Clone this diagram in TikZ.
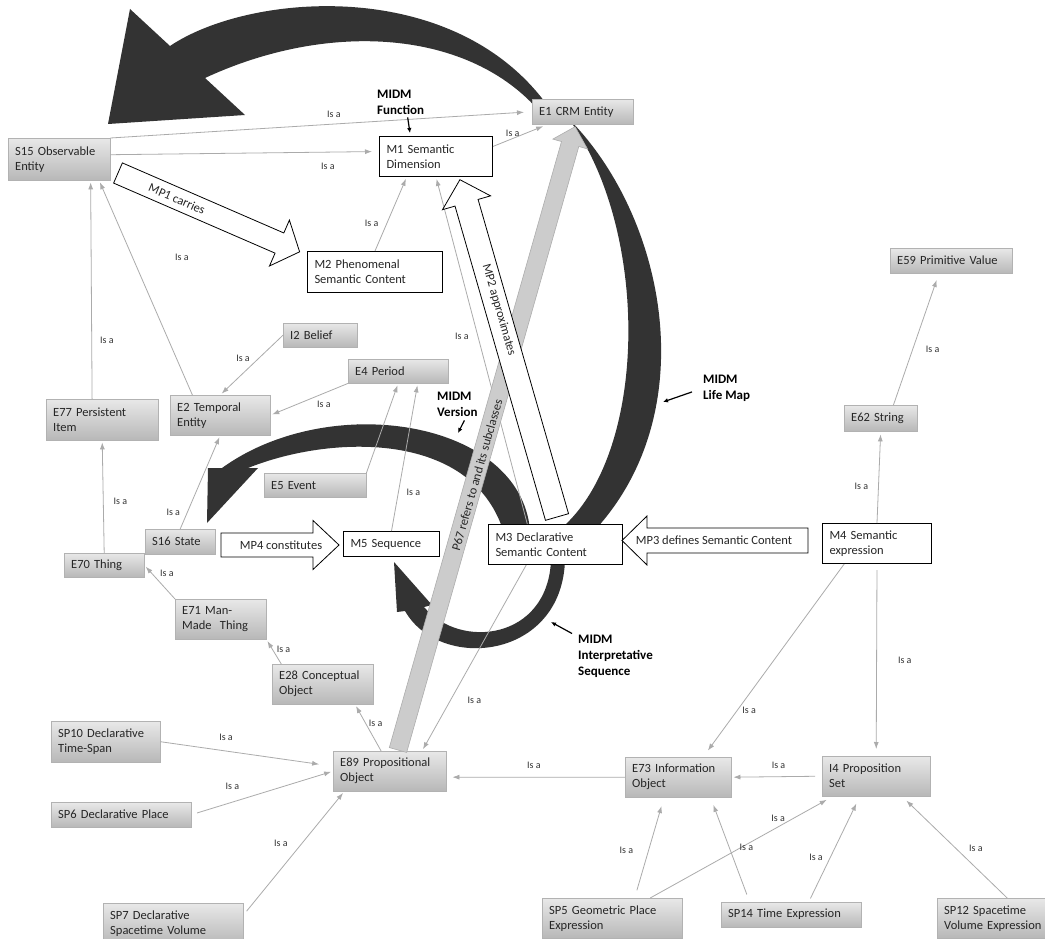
\documentclass[tikz,border=0pt]{standalone}
\usepackage{fontspec}
\setmainfont{Carlito}
\usepackage{tikz}
\usetikzlibrary{arrows.meta}
\pgfdeclarelayer{back}
\pgfsetlayers{back,main}
\newcommand{\boxfont}{\fontsize{12.5}{15}\selectfont}
\newcommand{\isafont}{\fontsize{10}{11}\selectfont}
\newcommand{\midmfont}{\fontsize{13}{16}\selectfont\bfseries}
% block arrow: style, tail, angle, length, shaft half width, head length, head half width
\newcommand{\blockarrow}[7]{%
  \path[#1, shift={#2}, rotate=#3] (0,-#5) -- (#4-#6,-#5) -- (#4-#6,-#7) -- (#4,0)
    -- (#4-#6,#7) -- (#4-#6,#5) -- (0,#5) -- cycle;}
\tikzset{
  classbox/.style={draw=black!30, top color=black!9, bottom color=black!28,
    anchor=north west, align=left, inner xsep=7pt, inner ysep=0pt,
    font=\boxfont, text=black!85},
  modelbox/.style={draw=black, line width=1pt, fill=white,
    anchor=north west, align=left, inner xsep=7pt, inner ysep=0pt,
    font=\boxfont, text=black!85},
  isa/.style={draw=black!33, line width=0.8pt, -{Latex[length=7pt,width=5pt]}, shorten >=2pt},
  isalbl/.style={font=\isafont, text=black!80, inner sep=1pt},
  band/.style={fill=black!80},
  refband/.style={fill=black!20, draw=black!32, line width=0.6pt},
  hollow/.style={fill=white, draw=black, line width=0.8pt},
  arrowtxt/.style={font=\boxfont, text=black!85, inner sep=0pt},
  midm/.style={font=\midmfont, align=left, anchor=north west, inner sep=0pt},
  pointer/.style={-{Latex[length=5pt,width=4.5pt]}, line width=1.2pt},
}

\begin{document}
\begin{tikzpicture}[x=1pt, y=-1pt]
    \useasboundingbox (0,0) rectangle (1045,939);

    % classes
    \node[classbox, text width=88pt, minimum height=42pt] (s15) at (8,138) {S15 Observable\\Entity};
    \node[classbox, text width=87pt, minimum height=25pt] (e1) at (532,99) {E1 CRM Entity};
    \node[modelbox, text width=99pt, minimum height=40pt] (m1) at (379,136) {M1 Semantic\\Dimension};
    \node[modelbox, text width=121pt, minimum height=41pt] (m2) at (307,251) {M2 Phenomenal\\Semantic Content};
    \node[classbox, text width=60pt, minimum height=24pt] (i2) at (283,323) {I2 Belief};
    \node[classbox, text width=86pt, minimum height=24pt] (e4) at (348,359) {E4 Period};
    \node[classbox, text width=86pt, minimum height=40pt] (e2) at (170,395) {E2 Temporal\\Entity};
    \node[classbox, text width=98pt, minimum height=41pt] (e77) at (46,399) {E77 Persistent\\Item};
    \node[classbox, text width=88pt, minimum height=24pt] (e5) at (264,473) {E5 Event};
    \node[classbox, text width=56pt, minimum height=25pt] (s16) at (145,529) {S16 State};
    \node[classbox, text width=66pt, minimum height=24pt] (e70) at (64,553) {E70 Thing};
    \node[modelbox, text width=82pt, minimum height=25pt] (m5) at (343,531) {M5 Sequence};
    \node[modelbox, text width=120pt, minimum height=40pt] (m3) at (488,524) {M3 Declarative\\Semantic Content};
    \node[modelbox, text width=95pt, minimum height=40pt] (m4) at (822,523) {M4 Semantic\\expression};
    \node[classbox, text width=59pt, minimum height=26pt] (e62) at (844,405) {E62 String};
    \node[classbox, text width=108pt, minimum height=25pt] (e59) at (890,248) {E59 Primitive Value};
    \node[classbox, text width=77pt, minimum height=40pt] (e71) at (175,599) {E71 Man-\\Made\ \ Thing};
    \node[classbox, text width=87pt, minimum height=40pt] (e28) at (272,664) {E28 Conceptual\\Object};
    \node[classbox, text width=95pt, minimum height=41pt] (sp10) at (51,721) {SP10 Declarative\\Time-Span};
    \node[classbox, text width=99pt, minimum height=40pt] (e89) at (333,751) {E89 Propositional\\Object};
    \node[classbox, text width=126pt, minimum height=25pt] (sp6) at (51,802) {SP6 Declarative Place};
    \node[classbox, text width=126pt, minimum height=41pt] (sp7) at (103,903) {SP7 Declarative\\Spacetime Volume};
    \node[classbox, text width=92pt, minimum height=40pt] (e73) at (625,757) {E73 Information\\Object};
    \node[classbox, text width=94pt, minimum height=40pt] (i4) at (822,756) {I4 Proposition\\Set};
    \node[classbox, text width=126pt, minimum height=40pt] (sp5) at (542,898) {SP5 Geometric Place\\Expression};
    \node[classbox, text width=126pt, minimum height=25pt] (sp14) at (721,902) {SP14 Time Expression};
    \node[classbox, text width=126pt, minimum height=40pt] (sp12) at (937,898) {SP12 Spacetime\\Volume Expression};

    % is-a links
    \draw[isa, shorten >=8pt] (s15.north east) -- node[isalbl, pos=.53, above=5pt] {Is a} (e1.west);
    \draw[isa, shorten >=7pt] (s15.5) -- node[isalbl, pos=.81, below=10pt] {Is a} (m1.175);
    \draw[isa, shorten >=5pt] (m1.10) -- node[isalbl, pos=.36, above=1pt] {Is a} (e1.200);
    \draw[isa] (m2.north) -- node[isalbl, pos=.37, left=7pt] {Is a} (m1.215);
    \draw[isa] (e77.116) -- node[isalbl, pos=.27, right=7pt] {Is a} (s15.326);
    \draw[isa] (e2.144) -- node[isalbl, pos=.64, right=41pt] {Is a} (s15.332);
    \draw[isa] (i2.west) -- node[isalbl, pos=.38, left=8pt] {Is a} (e2.north);
    \draw[isa] (e4.south west) -- node[isalbl, pos=.31, below=6pt] {Is a} (e2.east);
    \draw[isa] (s16.north) -- node[isalbl, pos=.18, left=6pt] {Is a} (e2.south);
    \draw[isa] (e70.north) -- node[isalbl, pos=.46, right=9pt] {Is a} (e77.south);
    \draw[isa] (e71.north west) -- node[isalbl, pos=.76, right=7pt] {Is a} (e70.east);
    \draw[isa] (e28.154) -- node[isalbl, pos=.6, right=3pt] {Is a} (e71.south east);
    \draw[isa] (e89.113) -- node[isalbl, pos=.6, right=2pt] {Is a} (e28.328);
    \draw[isa, shorten >=14pt] (sp10.east) -- node[isalbl, pos=.38, above=9pt] {Is a} (e89.175);
    \draw[isa, shorten <=6pt] (sp6.east) -- node[isalbl, pos=.29, above=11pt] {Is a} (e89.west);
    \draw[isa, shorten <=5pt] (sp7.7) -- node[isalbl, pos=.58, left=13pt] {Is a} (e89.204);
    \draw[isa] (e5.north east) -- node[isalbl, pos=.5, left=11pt] {Is a} (e4.south);
    \draw[isa] (m5.north) -- node[isalbl, pos=.26, right=7pt] {Is a} (e4.328);
    \draw[isa] (m3.144) -- node[isalbl, pos=.54, left=8pt] {Is a} (m1.south);
    \draw[isa] (m3.215) -- node[isalbl, pos=.73, right=16pt] {Is a} (e89.32);
    \draw[isa, shorten >=6pt] (e73.west) -- node[isalbl, pos=.51, above=7pt] {Is a} (e89.354);
    \draw[isa, shorten <=7pt] (i4.west) -- node[isalbl, pos=.48, above=7pt] {Is a} (e73.east);
    \draw[isa, shorten >=8pt] (m4.212) -- node[isalbl, pos=.76, right=4pt] {Is a} (e73.39);
    \draw[isa, shorten <=6pt, shorten >=7pt] (m4.south) -- node[isalbl, pos=.5, right=20pt] {Is a} (i4.north);
    \draw[isa, shorten >=3pt] (m4.north) -- node[isalbl, pos=.4, left=9pt] {Is a} (e62.south);
    \draw[isa, shorten >=7pt] (e62.46) -- node[isalbl, pos=.42, right=12pt] {Is a} (e59.226);
    \draw[isa, shorten <=8pt, shorten >=9pt] (sp5.42) -- node[isalbl, pos=.47, left=14pt] {Is a} (e73.235);
    \draw[isa, shorten >=7pt] (sp5.28) -- node[isalbl, pos=.7, above=4pt] {Is a} (i4.205);
    \draw[isa, shorten <=8pt, shorten >=8pt] (sp14.163) -- node[isalbl, pos=.52, right=9pt] {Is a} (e73.328);
    \draw[isa, shorten <=4pt, shorten >=8pt] (sp14.36) -- node[isalbl, pos=.42, left=6pt] {Is a} (i4.231);
    \draw[isa, shorten >=6pt] (sp12.north) -- node[isalbl, pos=.49, right=12pt] {Is a} (i4.322);

    % block arrows
    \blockarrow{refband}{(398,750)}{74.14}{648}{9}{18}{18}
    \node[arrowtxt, rotate=74.14] (p67) at (477,475) {P67 refers to and its subclasses};
    \blockarrow{hollow}{(557,517)}{106.06}{351}{12}{24}{25}
    \node[arrowtxt, rotate=-73.94] (mp2) at (499,310) {MP2 approximates};
    \blockarrow{hollow}{(118,173)}{-23.46}{198}{11}{22}{25}
    \node[arrowtxt, rotate=-23.46] (mp1) at (177,199) {MP1 carries};
    \blockarrow{hollow}{(221,545)}{0}{118}{12}{26}{24.5}
    \node[arrowtxt] (mp4) at (281,545) {MP4 constitutes};
    \blockarrow{hollow}{(808,540.5)}{180}{186}{12.5}{25}{24.5}
    \node[arrowtxt] (mp3) at (714,540) {MP3 defines Semantic Content};

    % MIDM labels
    \node[midm] (fnlbl) at (377,89.5) {MIDM\\Function};
    \node[midm] (verlbl) at (437,391.5) {MIDM\\Version};
    \node[midm] (lmlbl) at (703,374.5) {MIDM\\Life Map};
    \node[midm] (islbl) at (578,634.5) {MIDM\\Interpretative\\Sequence};
    \coordinate (fntip) at (410,133);
    \coordinate (vertip) at (458,433);
    \coordinate (lmtip) at (663,402);
    \coordinate (istip) at (551,622);
    \draw[pointer] ([xshift=7pt,yshift=-3pt]fnlbl.south) -- (fntip);
    \draw[pointer] ([xshift=7pt,yshift=-4pt]verlbl.south) -- (vertip);
    \draw[pointer] ([xshift=-11pt,yshift=-4pt]lmlbl.west) -- (lmtip);
    \draw[pointer] ([xshift=-6pt,yshift=1pt]islbl.north west) -- (istip);

    % the MIDM cycle bands
    \begin{pgfonlayer}{back}
    \fill[white] (0,0) rectangle (1045,939);
    \fill[band] (170,46) .. controls (250,-8) and (460,-25) .. (552,112) -- (540,112)
        .. controls (470,30) and (330,20) .. (205,78) -- (245,115) -- (108,124) -- (130,9) -- cycle;
    \fill[band] (568,118) .. controls (665,215) and (705,410) .. (595,530) -- (565,525)
        .. controls (650,445) and (648,225) .. (568,118) -- cycle;
    \fill[band] (530,530) .. controls (520,420) and (330,390) .. (222,468) -- (208,468) -- (207,523)
        -- (258,468) -- (248,468) .. controls (330,435) and (470,430) .. (503,530) -- cycle;
    \fill[band] (565,560) .. controls (562,660) and (440,672) .. (405,611) -- (397,612) -- (394,562)
        -- (432,605) -- (424,607) .. controls (460,650) and (548,640) .. (551,560) -- cycle;
    \end{pgfonlayer}
\end{tikzpicture}
\end{document}
